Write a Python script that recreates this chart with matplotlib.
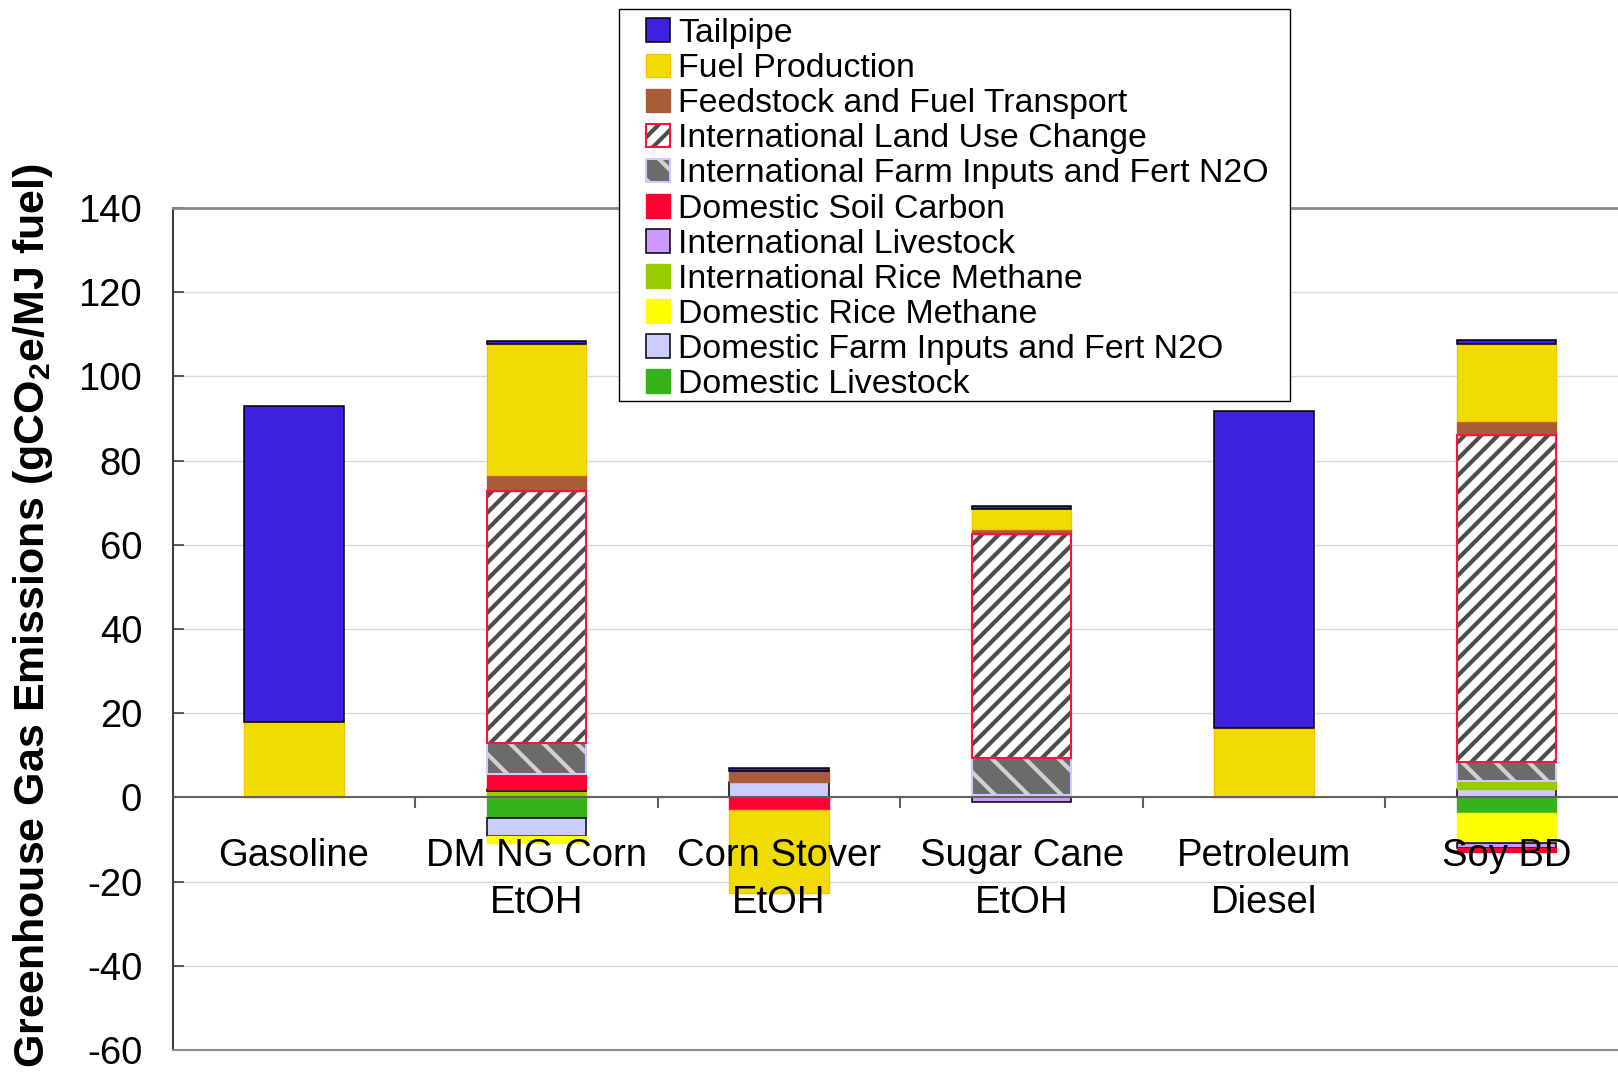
import numpy as np
import matplotlib
matplotlib.use("Agg")
import matplotlib.pyplot as plt
from matplotlib.patches import Patch, Rectangle
from matplotlib.legend_handler import HandlerTuple

plt.rcParams['font.family'] = ['Liberation Sans', 'DejaVu Sans']
plt.rcParams['axes.unicode_minus'] = False
plt.rcParams['mathtext.fontset'] = 'custom'
plt.rcParams['mathtext.rm'] = 'Liberation Sans'
plt.rcParams['mathtext.bf'] = 'Liberation Sans:bold'
plt.rcParams['hatch.linewidth'] = 3.0

# fuel pathways on the x axis
fuels = ['Gasoline', 'DM NG Corn\nEtOH', 'Corn Stover\nEtOH', 'Sugar Cane\nEtOH',
         'Petroleum\nDiesel', 'Soy BD']

# emission components, gCO2e/MJ, listed in stacking order (bottom first)
dom_livestock = [0, -4.9, 0, 0, 0, -3.7]
dom_farm_inputs = [0, -4.2, 3.7, 0, 0, 1.9]
dom_rice_methane = [0, -1.7, 0, 0, 0, -7.2]
intl_rice_methane = [0, 1.5, 0, 0.6, 0, 1.9]
intl_livestock = [0, 0.6, 0, -1.1, 0, -1.2]
dom_soil_carbon = [0, 3.4, -3.0, 0, 0, -0.8]
intl_farm_inputs = [0, 7.5, 0, 8.7, 0, 4.7]
intl_land_use = [0, 59.8, 0, 53.2, 0, 77.7]
feedstock_transport = [0, 3.9, 2.6, 1.2, 0, 3.3]
fuel_production = [18.0, 31.0, -19.6, 4.8, 16.4, 18.3]
tailpipe = [75.1, 0.8, 0.7, 0.8, 75.3, 0.8]

# (label, values, face, edge, hatch, hatch colour)
series = [
    ('Domestic Livestock', dom_livestock, '#36B21C', '#36B21C', None, None),
    ('Domestic Farm Inputs and Fert N2O', dom_farm_inputs, '#CCCCFF', 'black', None, None),
    ('Domestic Rice Methane', dom_rice_methane, '#FFFF00', '#FFFF00', None, None),
    ('International Rice Methane', intl_rice_methane, '#99CC00', '#99CC00', None, None),
    ('International Livestock', intl_livestock, '#CC99FF', 'black', None, None),
    ('Domestic Soil Carbon', dom_soil_carbon, '#FF0033', '#FF0033', None, None),
    ('International Farm Inputs and Fert N2O', intl_farm_inputs, '#6B6B6B', '#CCCCFF', '\\', '#D2D2D2'),
    ('International Land Use Change', intl_land_use, 'white', '#FF1040', '//', '#4D4D4D'),
    ('Feedstock and Fuel Transport', feedstock_transport, '#A95C3A', '#A95C3A', None, None),
    ('Fuel Production', fuel_production, '#F0DC00', '#FFC000', None, None),
    ('Tailpipe', tailpipe, '#3C22DE', 'black', None, None),
]

fig = plt.figure(figsize=(16.18, 10.76), dpi=100)
ax = fig.add_axes([0.1068, 0.0241, 0.8993, 0.7825])

x = np.arange(len(fuels))
width = 0.41
pos_base = np.zeros(len(fuels))
neg_base = np.zeros(len(fuels))
handles = {}

for name, vals, face, edge, hatch, hcol in series:
    vals = np.array(vals, dtype=float)
    bottoms = np.where(vals >= 0, pos_base, neg_base)
    keep = vals != 0
    lw = 1.1 if edge == 'black' else 1.0
    if hatch:
        ax.bar(x[keep], vals[keep], width, bottom=bottoms[keep], color=face,
               edgecolor=hcol, hatch=hatch, linewidth=0, zorder=2)
        ax.bar(x[keep], vals[keep], width, bottom=bottoms[keep], fill=False,
               edgecolor=edge, linewidth=1.5, zorder=3)
        handles[name] = (Patch(facecolor=face, edgecolor=hcol, hatch=hatch, linewidth=0),
                         Patch(fill=False, edgecolor=edge, linewidth=1.5))
    else:
        ax.bar(x[keep], vals[keep], width, bottom=bottoms[keep], color=face,
               edgecolor=edge, linewidth=lw, zorder=2)
        handles[name] = Patch(facecolor=face, edgecolor=edge, linewidth=lw)
    pos_base += np.where(vals > 0, vals, 0)
    neg_base += np.where(vals < 0, vals, 0)

ax.set_xlim(-0.5, len(fuels) - 0.5)
ax.set_ylim(-60, 140)
ax.set_yticks(np.arange(-60, 141, 20))
ax.yaxis.grid(True, color='#D9D9D9', linewidth=1.0, zorder=0)
ax.set_axisbelow(True)
ax.tick_params(axis='y', direction='in', length=8, width=1.2, color='#404040',
               labelsize=27.5, pad=22)
ax.set_xticks([])

ax.spines['left'].set_color('#404040')
ax.spines['left'].set_linewidth(1.5)
ax.spines['top'].set_color('#8C8C8C')
ax.spines['top'].set_linewidth(2)
ax.spines['bottom'].set_color('#8C8C8C')
ax.spines['bottom'].set_linewidth(1.5)
ax.spines['right'].set_visible(False)

# category axis drawn through zero, with ticks between the categories
ax.axhline(0, color='#606060', linewidth=1.5, zorder=5)
ax.vlines(x[:-1] + 0.5, -2.5, 0, color='#606060', linewidth=1.5, zorder=5)

for xi, name in zip(x, fuels):
    ax.text(xi, -9.7, name, ha='center', va='top', fontsize=27.5,
            linespacing=1.39, zorder=6)

fig.text(33 / 1618, 1 - 163 / 1076,
         r'Greenhouse Gas Emissions (gCO$_\mathbf{2}$e/MJ fuel)',
         rotation=90, ha='center', va='top', fontsize=31, fontweight='bold')

# legend box, drawn separately so the entries can sit with a wider left margin
fig.patches.append(Rectangle((0.3826, 0.6270), 0.4147, 0.3644, transform=fig.transFigure,
                             facecolor='white', edgecolor='black', linewidth=1.0,
                             zorder=4))

order = [s[0] for s in series][::-1]
leg = fig.legend([handles[n] for n in order], order, loc='upper left',
                 bbox_to_anchor=(0.3993, 0.9831), fontsize=24.4,
                 handler_map={tuple: HandlerTuple(ndivide=1, pad=0)},
                 handlelength=0.7, handleheight=0.7, handletextpad=0.25,
                 labelspacing=0.12, borderpad=0, borderaxespad=0,
                 frameon=False)
leg.set_zorder(5)

fig.savefig('out.png', dpi=100)
